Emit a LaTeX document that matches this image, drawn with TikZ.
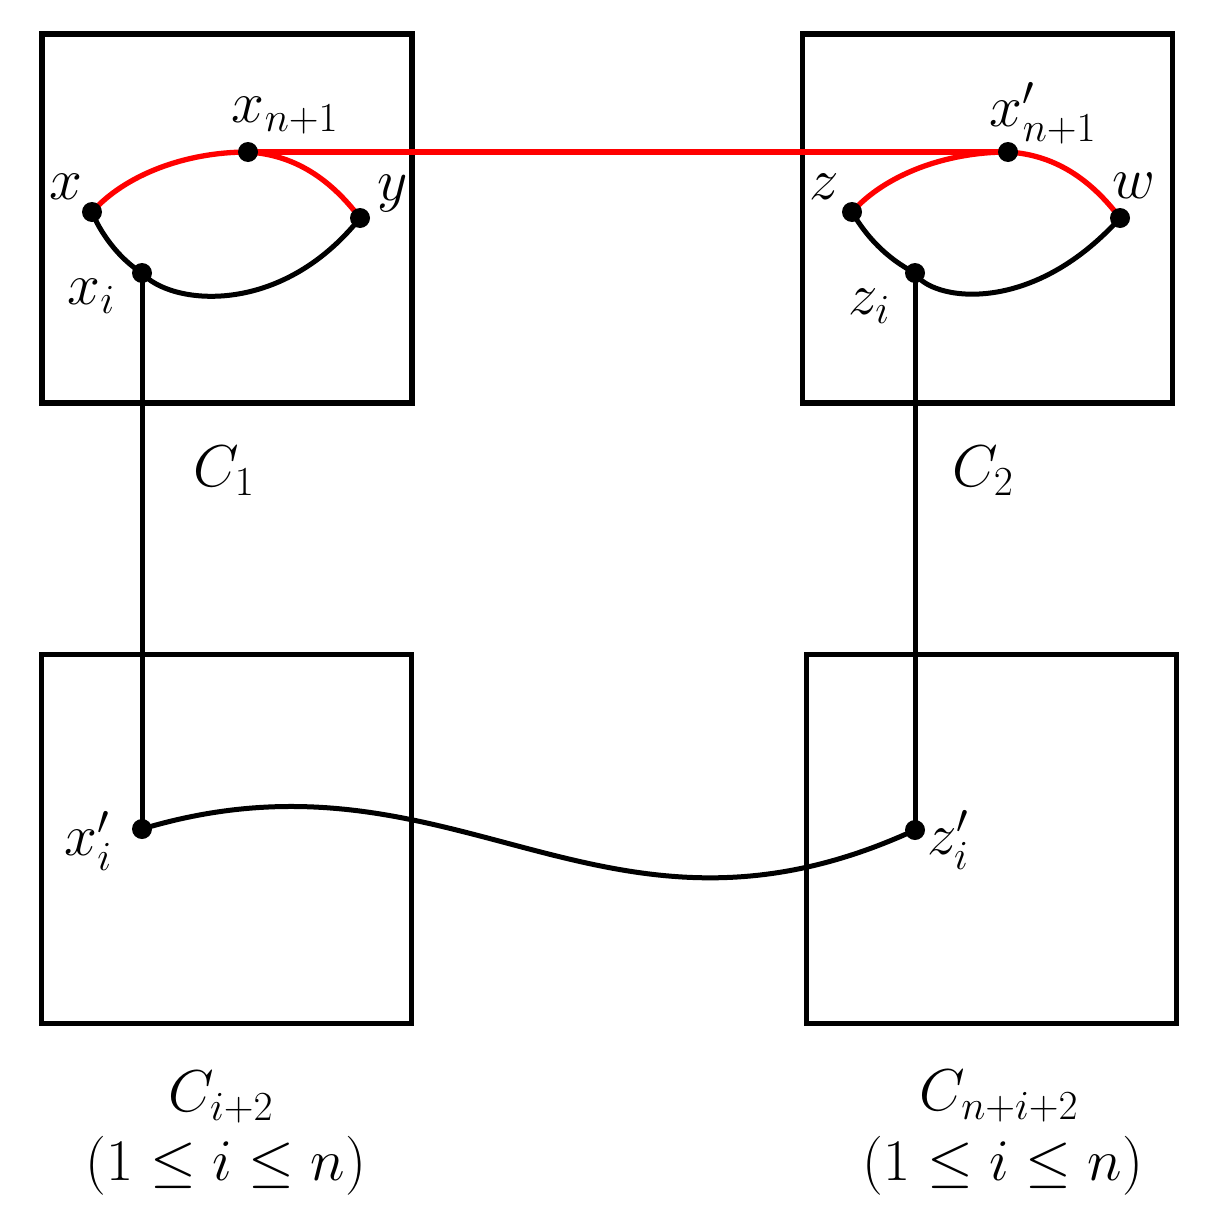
\documentclass[tikz,border=0pt]{standalone}
\usepackage{fix-cm}
\begin{document}
\begin{tikzpicture}[x=1pt,y=-1pt,
  box/.style={draw, line width=5.2pt, minimum width=370pt, minimum height=369pt, inner sep=0pt},
  dot/.style={circle, fill=black, inner sep=0pt, minimum size=20pt},
  blk/.style={line width=5pt, black},
  redc/.style={line width=5.3pt, red},
  lbl/.style={inner sep=0pt, font=\fontsize{59}{70}\selectfont}]
\useasboundingbox (0,0) rectangle (1208,1226);
% boxes
\node[box] (B1) at (227,218.5) {};
\node[box] (B2) at (987.5,218.5) {};
\node[box] (B3) at (226.5,839) {};
\node[box] (B4) at (991.5,839) {};
% dots (positions)
\coordinate (x) at (92,212);
\coordinate (xn1) at (248,152);
\coordinate (y) at (360,218);
\coordinate (xi) at (142,273);
\coordinate (z) at (852,212);
\coordinate (xpn1) at (1008,152);
\coordinate (w) at (1120,218);
\coordinate (zi) at (915,273);
\coordinate (xpi) at (142,829);
\coordinate (zpi) at (915,830);
% black curves
\draw[blk] (x) .. controls (100,232) and (118,258) .. (xi);
\draw[blk] (xi) .. controls (170,305) and (280,318) .. (y);
\draw[blk] (z) .. controls (866,236) and (886,258) .. (zi);
\draw[blk] (zi) .. controls (930,300) and (1030,318) .. (w);
\draw[blk] (xi) -- (xpi);
\draw[blk] (zi) -- (zpi);
\draw[blk] (xpi) .. controls (455,735) and (600,975) .. (zpi);
% red curves
\draw[redc] (x) .. controls (125,175) and (185,152) .. (xn1);
\draw[redc] (xn1) .. controls (300,155) and (335,185) .. (y);
\draw[redc] (z) .. controls (885,175) and (945,152) .. (xpn1);
\draw[redc] (xpn1) .. controls (1060,155) and (1095,185) .. (w);
\draw[redc] (xn1) -- (xpn1);
% dot nodes
\foreach \p in {x,xn1,y,xi,z,xpn1,w,zi,xpi,zpi} \node[dot] (d\p) at (\p) {};
% labels
\node[lbl] (lx) at (66,187) {$x$};
\node[lbl] (lxn1) at (285,116) {$x_{n+1}$};
\node[lbl] (ly) at (393,194) {$y$};
\node[lbl] (lxi) at (91,296) {$x_i$};
\node[lbl] (lz) at (824,187) {$z$};
\node[lbl] (lxpn1) at (1043,113) {$x'_{n+1}$};
\node[lbl] (lw) at (1134,186) {$w$};
\node[lbl] (lzi) at (869,306) {$z_i$};
\node[lbl] (lxpi) at (88,841) {$x'_i$};
\node[lbl] (lzpi) at (948,840) {$z'_i$};
\node[lbl] (lC1) at (224,471) {$C_1$};
\node[lbl] (lC2) at (983,471) {$C_2$};
\node[lbl] (lC3) at (221,1097) {$C_{i+2}$};
\node[lbl] (lR3) at (226,1166) {$(1\leq i\leq n)$};
\node[lbl] (lC4) at (999,1096) {$C_{n+i+2}$};
\node[lbl] (lR4) at (1003,1166) {$(1\leq i\leq n)$};
\end{tikzpicture}
\end{document}
